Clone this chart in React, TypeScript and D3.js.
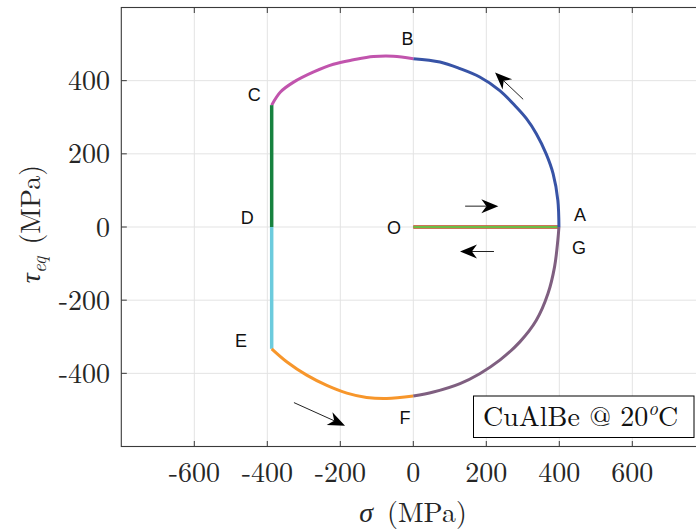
import React from "react";
import * as d3 from "d3";

// ---- data ----
const xTicks = [-600, -400, -200, 0, 200, 400, 600];
const yTicks = [-400, -200, 0, 200, 400];

const oaSigma = [0, 100, 200, 300, 400];
const oaTau = [0, 0, 0, 0, 0];

const abSigma = [399, 396, 383, 364, 337, 310, 282, 237, 182, 128, 73, 0];
const abTau = [0, 73, 146, 200, 255, 296, 328, 373, 410, 433, 451, 460];

const bcSigma = [0, -55, -109, -164, -219, -273, -328, -364, -388];
const bcTau = [460, 467, 466, 457, 445, 424, 396, 369, 333];

const cdSigma = [-388, -388];
const cdTau = [333, 0];

const deSigma = [-388, -388];
const deTau = [0, -333];

const efSigma = [-388, -346, -292, -237, -182, -128, -73, 0];
const efTau = [-333, -369, -405, -433, -454, -466, -469, -462];

const fgSigma = [0, 55, 128, 182, 237, 292, 337, 369, 387, 396, 399];
const fgTau = [-462, -451, -428, -401, -364, -314, -255, -182, -109, -36, 0];

const pointLabels = ["A", "B", "C", "D", "E", "F", "G", "O"];
const labelSigma = [457, -16, -436, -455, -472, -23, 454, -53];
const labelTau = [33, 514, 361, 25, -311, -522, -57, -3];

// arrows: tail and tip in data units
const arrowTailSigma = [301, 142, 221, -327];
const arrowTailTau = [349, 57, -67, -480];
const arrowTipSigma = [224, 233, 128, -187];
const arrowTipTau = [422, 57, -67, -543];

const W = 696;
const H = 532;
const left = 121.3;
const right = 705.3;
const top = 7.5;
const bottom = 446.5;

export default function App() {
  const x = d3.scaleLinear().domain([-800, 800]).range([left, right]);
  const y = d3.scaleLinear().domain([-600, 600]).range([bottom, top]);

  const mk = (s: number[], t: number[]) => s.map((v, i) => [v, t[i]] as [number, number]);
  const line = d3
    .line<[number, number]>()
    .x((d) => x(d[0]))
    .y((d) => y(d[1]))
    .curve(d3.curveCatmullRom.alpha(0.5));

  const segs = [
    { d: mk(abSigma, abTau), c: "#3753a6", w: 3 },
    { d: mk(bcSigma, bcTau), c: "#c154ad", w: 3 },
    { d: mk(cdSigma, cdTau), c: "#17823f", w: 3.5 },
    { d: mk(deSigma, deTau), c: "#6ccbdd", w: 3.5 },
    { d: mk(efSigma, efTau), c: "#f7962b", w: 3 },
    { d: mk(fgSigma, fgTau), c: "#7f5f80", w: 3 },
  ];

  const serif = "'Latin Modern Roman','CMU Serif','Liberation Serif',serif";
  const sans = "'Liberation Sans',Arial,sans-serif";
  const axisColor = "#3a3a3a";
  const tickLen = 5.5;

  const arrows = arrowTailSigma.map((_, i) => {
    const x0 = x(arrowTailSigma[i]);
    const y0 = y(arrowTailTau[i]);
    const x1 = x(arrowTipSigma[i]);
    const y1 = y(arrowTipTau[i]);
    const dx = x1 - x0;
    const dy = y1 - y0;
    const len = Math.hypot(dx, dy);
    const ux = dx / len;
    const uy = dy / len;
    const nx = -uy;
    const ny = ux;
    const L = 17;
    const Wd = 14;
    const notch = 0.7 * L;
    const head = [
      [x1, y1],
      [x1 - L * ux + (Wd / 2) * nx, y1 - L * uy + (Wd / 2) * ny],
      [x1 - notch * ux, y1 - notch * uy],
      [x1 - L * ux - (Wd / 2) * nx, y1 - L * uy - (Wd / 2) * ny],
    ];
    return {
      x0,
      y0,
      xe: x1 - notch * ux,
      ye: y1 - notch * uy,
      head: head.map((p) => p.join(",")).join(" "),
    };
  });

  return (
    <svg
      width={W}
      height={H}
      style={{ position: "absolute", left: 0, top: 0, background: "#fff" }}
    >
      <rect x={0} y={0} width={W} height={H} fill="#fff" />
      {/* grid */}
      <g stroke="#e3e3e3" strokeWidth={1}>
        {xTicks.map((t) => (
          <line key={"gx" + t} x1={x(t)} x2={x(t)} y1={top} y2={bottom} />
        ))}
        {yTicks.map((t) => (
          <line key={"gy" + t} x1={left} x2={right} y1={y(t)} y2={y(t)} />
        ))}
      </g>

      {/* O-A loading/unloading */}
      <path d={line(mk(oaSigma, oaTau)) || ""} fill="none" stroke="#e8282b" strokeWidth={3.4} />
      <path d={line(mk(oaSigma, oaTau)) || ""} fill="none" stroke="#6cbd45" strokeWidth={2.6} />

      {segs.map((s, i) => (
        <path key={i} d={line(s.d) || ""} fill="none" stroke={s.c} strokeWidth={s.w} />
      ))}

      {/* axes box */}
      <rect
        x={left}
        y={top}
        width={right - left}
        height={bottom - top}
        fill="none"
        stroke={axisColor}
        strokeWidth={1.1}
      />
      <g stroke={axisColor} strokeWidth={1}>
        {xTicks.map((t) => (
          <g key={"tx" + t}>
            <line x1={x(t)} x2={x(t)} y1={bottom} y2={bottom - tickLen} />
            <line x1={x(t)} x2={x(t)} y1={top} y2={top + tickLen} />
          </g>
        ))}
        {yTicks.map((t) => (
          <g key={"ty" + t}>
            <line x1={left} x2={left + tickLen} y1={y(t)} y2={y(t)} />
            <line x1={right} x2={right - tickLen} y1={y(t)} y2={y(t)} />
          </g>
        ))}
      </g>

      {/* tick labels */}
      <g fontFamily={serif} fontSize={28} fill="#262626">
        {xTicks.map((t) => (
          <text key={"lx" + t} x={x(t)} y={482} textAnchor="middle">
            {t < 0 ? "-" + Math.abs(t) : String(t)}
          </text>
        ))}
        {yTicks.map((t) => (
          <text key={"ly" + t} x={110} y={y(t) + 9.5} textAnchor="end">
            {t < 0 ? "-" + Math.abs(t) : String(t)}
          </text>
        ))}
      </g>

      {/* axis labels */}
      <text x={413} y={522} textAnchor="middle" fontFamily={serif} fontSize={28} fill="#262626">
        <tspan fontStyle="italic">σ</tspan>
        <tspan dx={14}>(MPa)</tspan>
      </text>
      <text
        transform={`translate(40,${224}) rotate(-90)`}
        textAnchor="middle"
        fontFamily={serif}
        fontSize={28}
        fill="#262626"
      >
        <tspan fontStyle="italic">τ</tspan>
        <tspan fontStyle="italic" fontSize={19} dy={6}>
          eq
        </tspan>
        <tspan dx={12} dy={-6}>
          (MPa)
        </tspan>
      </text>

      {/* point labels */}
      <g fontFamily={sans} fontSize={18} fill="#111">
        {pointLabels.map((p, i) => (
          <text
            key={p}
            x={x(labelSigma[i])}
            y={y(labelTau[i])}
            textAnchor="middle"
            dominantBaseline="central"
          >
            {p}
          </text>
        ))}
      </g>

      {/* arrows */}
      {arrows.map((a, i) => (
        <g key={"ar" + i}>
          <line x1={a.x0} y1={a.y0} x2={a.xe} y2={a.ye} stroke="#222" strokeWidth={1} />
          <polygon points={a.head} fill="#000" />
        </g>
      ))}

      {/* annotation box */}
      <rect x={473.5} y={396} width={220.5} height={41.5} fill="#fff" stroke="#000" strokeWidth={1} />
      <text x={483} y={426} fontFamily={serif} fontSize={28} fill="#111">
        CuAlBe @ 20
        <tspan fontStyle="italic" fontSize={19} dy={-11}>
          o
        </tspan>
        <tspan dy={11}>C</tspan>
      </text>
    </svg>
  );
}
